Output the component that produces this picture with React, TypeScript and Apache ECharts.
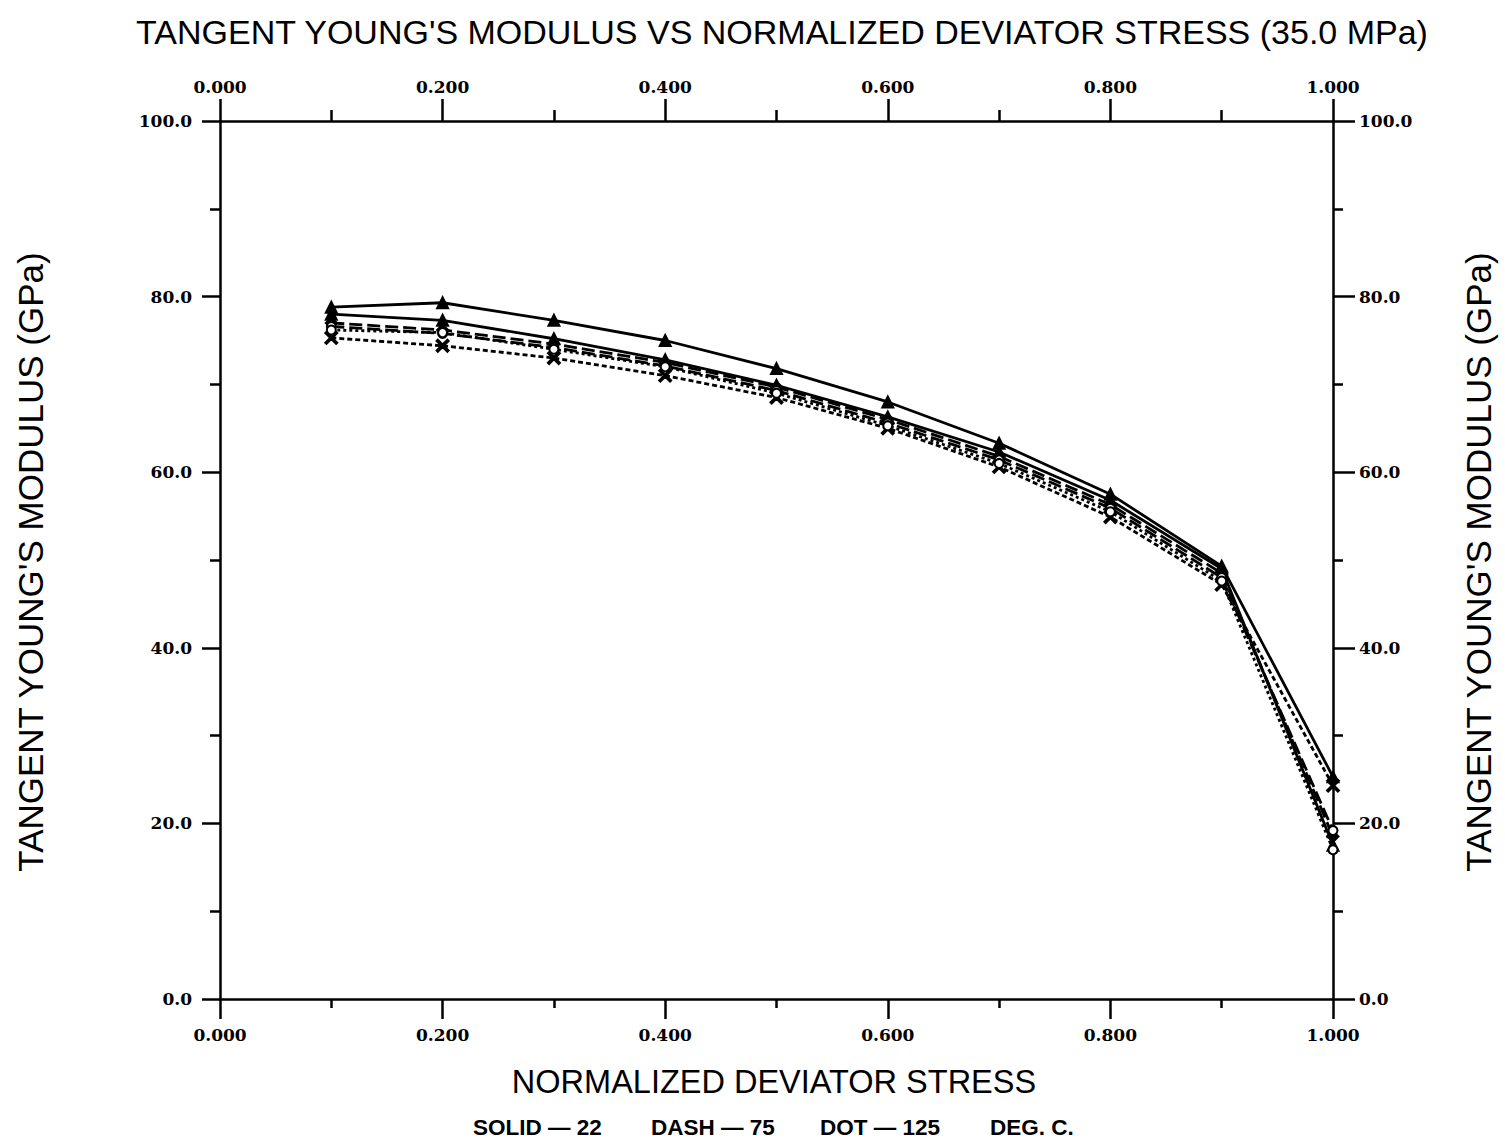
import React, { useEffect, useRef } from "react";
import * as echarts from "echarts";

const stress = [0.1, 0.2, 0.3, 0.4, 0.5, 0.6, 0.7, 0.8, 0.9, 1.0];
const solidA = [78.8, 79.3, 77.3, 75.0, 71.8, 68.0, 63.3, 57.5, 49.3, 25.3];
const solidB = [78.0, 77.3, 75.2, 72.8, 69.9, 66.3, 62.3, 56.8, 49.0, 17.5];
const dashA = [77.0, 76.2, 74.6, 72.5, 69.7, 66.0, 61.8, 56.3, 48.5, 18.5];
const dashB = [76.6, 75.8, 74.2, 72.1, 69.3, 65.6, 61.4, 55.9, 48.0, 19.2];
const dotA = [75.3, 74.4, 73.0, 71.0, 68.5, 65.0, 60.6, 54.9, 47.2, 24.3];
const dotB = [76.2, 75.9, 74.0, 72.0, 69.0, 65.3, 61.0, 55.5, 47.6, 17.0];

const titleText = "TANGENT YOUNG'S MODULUS VS NORMALIZED DEVIATOR STRESS (35.0 MPa)";
const xName = "NORMALIZED DEVIATOR STRESS";
const yName = "TANGENT YOUNG'S MODULUS (GPa)";
const legendParts = ["SOLID \u2014 22", "DASH \u2014 75", "DOT \u2014 125", "DEG. C."];

const X_SYMBOL = "path://M0,1L1,0L5,4L9,0L10,1L6,5L10,9L9,10L5,6L1,10L0,9L4,5Z";

const pair = (ys: number[]) => stress.map((x, i) => [x, ys[i]]);

export default function App() {
  const ref = useRef<HTMLDivElement>(null);
  useEffect(() => {
    document.body.style.margin = "0";
    if (!ref.current) return;
    const chart = echarts.init(ref.current, null, { renderer: "svg" });
    const labelFont = {
      fontFamily: "DejaVu Serif",
      fontWeight: "bold" as const,
      fontSize: 17,
      color: "#000",
    };
    const sansTitle = "Liberation Sans, Arial, sans-serif";
    const axisCommon = {
      type: "value" as const,
      axisLine: { show: true, onZero: false, lineStyle: { color: "#000", width: 2.5 } },
      splitLine: { show: false },
    };
    const mkSeries = (name: string, data: number[], type: any, symbol: string, size: number) => ({
      name,
      type: "line",
      data: pair(data),
      symbol,
      symbolSize: size,
      showSymbol: true,
      lineStyle: { color: "#000", width: 2.8, type },
      itemStyle: { color: "#000", borderColor: "#000", borderWidth: 2 },
      xAxisIndex: 0,
      yAxisIndex: 0,
    });
    const legendX = [473, 651, 820, 990];
    chart.setOption({
      animation: false,
      backgroundColor: "#fff",
      grid: { left: 220, right: 172, top: 121, bottom: 142, containLabel: false },
      xAxis: [
        {
          ...axisCommon,
          position: "bottom",
          min: 0,
          max: 1,
          interval: 0.2,
          axisTick: { show: true, length: 20, lineStyle: { color: "#000", width: 2.5 } },
          minorTick: { show: true, splitNumber: 2, length: 9, lineStyle: { color: "#000", width: 2.5 } },
          axisLabel: { ...labelFont, margin: 27, formatter: (v: number) => v.toFixed(3) },
        },
        {
          ...axisCommon,
          position: "top",
          min: 0,
          max: 1,
          interval: 0.2,
          axisTick: { show: true, length: 22, lineStyle: { color: "#000", width: 2.5 } },
          minorTick: { show: true, splitNumber: 2, length: 11, lineStyle: { color: "#000", width: 2.5 } },
          axisLabel: { ...labelFont, margin: 26, formatter: (v: number) => v.toFixed(3) },
        },
      ],
      yAxis: [
        {
          ...axisCommon,
          position: "left",
          min: 0,
          max: 100,
          interval: 20,
          axisTick: { show: true, length: 18, lineStyle: { color: "#000", width: 2.5 } },
          minorTick: { show: true, splitNumber: 2, length: 10, lineStyle: { color: "#000", width: 2.5 } },
          axisLabel: { ...labelFont, margin: 28, formatter: (v: number) => v.toFixed(1) },
        },
        {
          ...axisCommon,
          position: "right",
          min: 0,
          max: 100,
          interval: 20,
          axisTick: { show: true, length: 22, lineStyle: { color: "#000", width: 2.5 } },
          minorTick: { show: true, splitNumber: 2, length: 10, lineStyle: { color: "#000", width: 2.5 } },
          axisLabel: { ...labelFont, margin: 26, formatter: (v: number) => v.toFixed(1) },
        },
      ],
      series: [
        mkSeries("Solid 1", solidA, "solid", "triangle", 11),
        mkSeries("Solid 2", solidB, "solid", "triangle", 11),
        mkSeries("Dash 1", dashA, [13, 5], "diamond", 11),
        mkSeries("Dash 2", dashB, [13, 5], "emptyCircle", 9),
        mkSeries("Dot 1", dotA, [5, 3], X_SYMBOL, 12),
        mkSeries("Dot 2", dotB, [3, 3], "emptyCircle", 9),
      ],
      graphic: [
        {
          type: "text",
          x: 782,
          y: 32,
          style: {
            text: titleText,
            fontFamily: sansTitle,
            fontSize: 34,
            fill: "#000",
            align: "center",
            verticalAlign: "middle",
          },
        },
        {
          type: "text",
          x: 774,
          y: 1082,
          style: {
            text: xName,
            fontFamily: sansTitle,
            fontSize: 32.5,
            fill: "#000",
            align: "center",
            verticalAlign: "middle",
          },
        },
        {
          type: "text",
          x: 30,
          y: 562,
          rotation: Math.PI / 2,
          style: {
            text: yName,
            fontFamily: sansTitle,
            fontSize: 35,
            fill: "#000",
            align: "center",
            verticalAlign: "middle",
          },
        },
        {
          type: "text",
          x: 1478,
          y: 562,
          rotation: Math.PI / 2,
          style: {
            text: yName,
            fontFamily: sansTitle,
            fontSize: 35,
            fill: "#000",
            align: "center",
            verticalAlign: "middle",
          },
        },
        ...legendParts.map((t, i) => ({
          type: "text",
          x: legendX[i],
          y: 1127,
          style: {
            text: t,
            fontFamily: "Liberation Sans, Arial, sans-serif",
            fontWeight: "bold",
            fontSize: 22.5,
            fill: "#000",
            align: "left",
            verticalAlign: "middle",
          },
        })),
      ],
    });
    return () => chart.dispose();
  }, []);
  return <div ref={ref} style={{ width: 1505, height: 1141 }} />;
}
